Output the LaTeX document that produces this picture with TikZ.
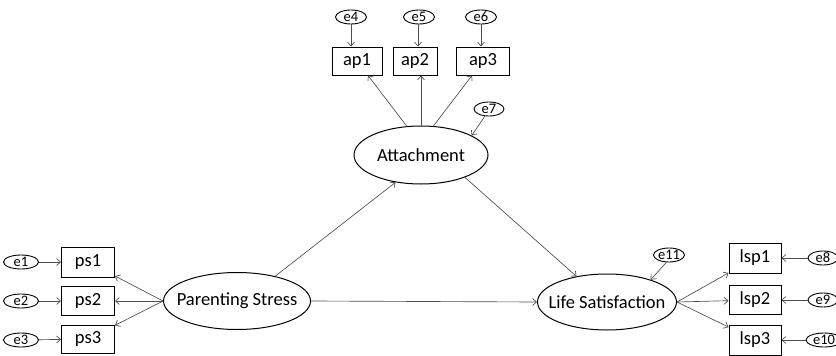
\documentclass[tikz,border=0pt]{standalone}
\usepackage{fontspec}
\setmainfont{Carlito}
\usetikzlibrary{shapes.geometric,arrows.meta,calc}
\begin{document}
\begin{tikzpicture}[x=1pt,y=-1pt,
  lat/.style={draw,ellipse,line width=1pt,inner sep=-20pt,font=\fontsize{18.5}{20}\selectfont},
  obs/.style={draw,rectangle,line width=1pt,minimum width=52pt,minimum height=28pt,inner sep=0pt,font=\fontsize{18.5}{20}\selectfont},
  err/.style={draw,ellipse,line width=0.9pt,minimum width=31pt,minimum height=14pt,inner xsep=0pt,inner ysep=-4pt,font=\fontsize{14.5}{15}\selectfont},
  arr/.style={draw=black!70,line width=0.65pt,-{Straight Barb[length=4pt,width=7pt]}}]
\useasboundingbox (0,0) rectangle (836,356);
\clip (0,0) rectangle (836,356);
% latent variables
\node[lat,minimum width=134pt,minimum height=58pt] (att) at (421,155) {Attachment};
\node[lat,minimum width=147pt,minimum height=57pt] (ps) at (237,301) {Parenting Stress};
\node[lat,minimum width=139pt,minimum height=56pt] (ls) at (607,302) {Life Satisfaction};
% indicators
\node[obs,minimum width=50pt] (ap1) at (357,61) {ap1};
\node[obs,minimum width=44pt] (ap2) at (415,61) {ap2};
\node[obs,minimum width=53pt] (ap3) at (483,61) {ap3};
\node[obs,minimum width=53pt,minimum height=30pt] (ps1) at (88,262) {ps1};
\node[obs,minimum width=53pt,minimum height=29pt] (ps2) at (88,301) {ps2};
\node[obs,minimum width=53pt,minimum height=28pt] (ps3) at (88,339) {ps3};
\node[obs,minimum height=30pt] (lsp1) at (755,258) {lsp1};
\node[obs,minimum height=29pt] (lsp2) at (755,300) {lsp2};
\node[obs,minimum height=30pt] (lsp3) at (755,340) {lsp3};
% errors
\node[err] (e4) at (351,17) {e4};
\node[err] (e5) at (419,17) {e5};
\node[err] (e6) at (481,17) {e6};
\node[err,minimum width=30pt] (e7) at (489,109) {e7};
\node[err,minimum width=35pt] (e1) at (21,262) {e1};
\node[err,minimum width=35pt] (e2) at (21,301) {e2};
\node[err,minimum width=35pt] (e3) at (21,340) {e3};
\node[err,minimum width=30pt] (e11) at (669,255) {e11};
\node[err,minimum width=30pt] (e8) at (823,258) {e8};
\node[err,minimum width=30pt] (e9) at (823,300) {e9};
\node[err,minimum width=36pt] (e10) at (824,340) {e10};
% error arrows
\draw[arr] (e4.south) -- (e4.south |- ap1.north);
\draw[arr] ([xshift=-1pt]e5.south) -- ([xshift=-1pt]e5.south |- ap2.north);
\draw[arr] (e6.south) -- (e6.south |- ap3.north);
\draw[arr] (e7.240) -- (att.21);
\draw[arr] (e1) -- (ps1);
\draw[arr] (e2) -- (ps2);
\draw[arr] (e3) -- (ps3);
\draw[arr] (e11.250) -- (ls.27);
\draw[arr] (e8) -- (lsp1);
\draw[arr] (e9) -- (lsp2);
\draw[arr] (e10) -- (lsp3);
% loadings
\draw[arr] ($(att.north)+(-14,1)$) -- ($(ap1.south)+(11,0)$);
\draw[arr] (att.north) -- ($(ap2.south)+(6,0)$);
\draw[arr] ($(att.north)+(12,1)$) -- ($(ap3.south)+(-11,0)$);
\draw[arr] (ps.west) -- (ps1);
\draw[arr] (ps.west) -- (ps2);
\draw[arr] (ps.west) -- (ps3);
\draw[arr] (ls.east) -- (lsp1);
\draw[arr] (ls.east) -- (lsp2);
\draw[arr] (ls.east) -- (lsp3);
% structural paths
\draw[arr] (ps.33) -- (att.227);
\draw[arr] (ps.east) -- (ls.west);
\draw[arr] (att.-27) -- (ls.140);
\end{tikzpicture}
\end{document}
